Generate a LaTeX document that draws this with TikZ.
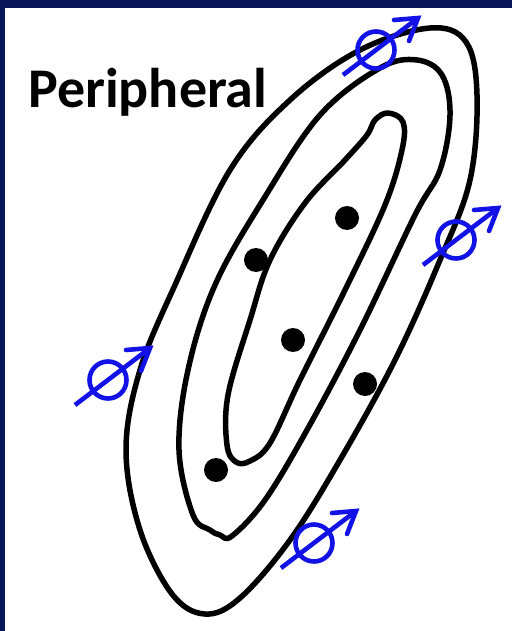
\documentclass[tikz,border=0pt]{standalone}
\usepackage{fontspec}
\setmainfont{Carlito}
\definecolor{navy}{RGB}{8,22,88}
\definecolor{symblue}{RGB}{18,18,230}
\tikzset{
  contour/.style={line width=5.5pt, black, line join=round},
  dot/.style={circle, fill=black, inner sep=0pt, minimum size=24pt},
  malesym/.pic={
    \draw[symblue, line width=4.6pt] (-33,25) -- (42,-32);
    \draw[symblue, line width=4.6pt] (0,0) circle[radius=18.5pt];
    \draw[symblue, line width=4.6pt, line join=miter, line cap=round] (18,-30) -- (42,-32) -- (33,-9);
  }
}
\begin{document}
\begin{tikzpicture}[x=1pt,y=-1pt]
\useasboundingbox (0,0) rectangle (512,631);
\fill[white] (0,0) rectangle (512,631);
\fill[navy] (0,0) rectangle (512,8);
\fill[navy] (0,0) rectangle (5,631);

% outer contour
\draw[contour] plot[smooth cycle, tension=0.6] coordinates {
 (430,28) (466,42) (477,95) (470,180) (440,260) (395,360) (340,460)
 (290,540) (240,598) (205,614) (172,594) (140,530) (126,450) (140,370)
 (175,285) (230,170) (290,100) (360,50)};

% middle contour
\draw[contour] plot[smooth cycle, tension=0.6] coordinates {
 (417,60) (442,75) (450,115) (440,170) (415,215) (360,330) (307,430)
 (265,500) (232,536) (220,535) (210,530) (193,515) (179,450) (188,370)
 (215,285) (263,200) (320,115) (380,68)};

% inner contour
\draw[contour] plot[smooth cycle, tension=0.6] coordinates {
 (388,113) (403,122) (402,150) (385,205) (345,290) (300,380) (270,443)
 (250,461) (236,462) (227,445) (228,395) (250,320) (270,260) (305,203)
 (345,160) (367,135) (375,120)};

% dots
\node[dot] (d1) at (347,218) {};
\node[dot] (d2) at (256,260) {};
\node[dot] (d3) at (293,340) {};
\node[dot] (d4) at (365,384) {};
\node[dot] (d5) at (216,470) {};

% symbols
\pic at (376,50) {malesym};
\pic at (456,240) {malesym};
\pic at (108,380) {malesym};
\pic at (314,543) {malesym};

\node[anchor=base west, inner sep=0pt, font=\fontsize{56}{62}\selectfont\bfseries] (title) at (28,108) {Peripheral};
\end{tikzpicture}
\end{document}
